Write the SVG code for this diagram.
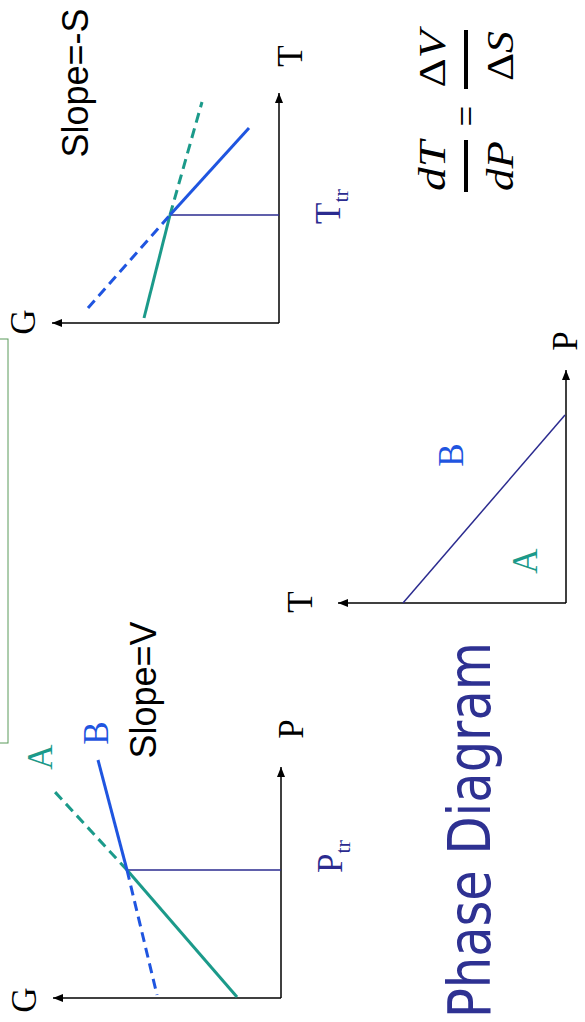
<svg xmlns="http://www.w3.org/2000/svg" width="585" height="1022" viewBox="0 0 585 1022">
<style>
.ax{stroke:#000;stroke-width:1.5;fill:none}
.tr{stroke:#2b2b8f;stroke-width:1.5;fill:none}
.ts{stroke:#1b9a8a;stroke-width:3;fill:none}
.td{stroke:#1b9a8a;stroke-width:3;fill:none;stroke-dasharray:10 6}
.bs{stroke:#1f55e0;stroke-width:3;fill:none}
.bd{stroke:#1f55e0;stroke-width:3;fill:none;stroke-dasharray:10 6}
.tm{font-family:"Liberation Serif",serif;font-size:35px;fill:#000}
.ar{font-family:"Liberation Sans",Arial,sans-serif;font-size:36px;fill:#000}
.teal{fill:#1b9a8a}
.blue{fill:#1f55e0}
.navy{fill:#2b2b8f}
.eq{font-family:"Liberation Serif",serif;font-size:37px;fill:#000}
</style>
<defs>
<marker id="arr" markerUnits="userSpaceOnUse" markerWidth="10" markerHeight="8" refX="10" refY="4" orient="auto">
<path d="M0,0 L10,4 L0,8 z" fill="#000"/>
</marker>
</defs>
<rect id="frame" x="-2" y="339" width="10" height="404" fill="none" stroke="#5a9a5a" stroke-width="1"/>

<g id="connectors">
<line class="ax" x1="279" y1="323" x2="279" y2="93" marker-end="url(#arr)"/>
<line class="ax" x1="279" y1="323" x2="52" y2="323" marker-end="url(#arr)"/>
<line class="tr" x1="170" y1="215" x2="279" y2="215"/>
<line class="ts" x1="144" y1="318" x2="170" y2="215"/>
<line class="td" x1="170" y1="215" x2="202" y2="102"/>
<line class="bd" x1="88" y1="308" x2="170" y2="215"/>
<line class="bs" x1="170" y1="215" x2="249" y2="128"/>

<line class="ax" x1="281" y1="998" x2="281" y2="767" marker-end="url(#arr)"/>
<line class="ax" x1="281" y1="998" x2="53" y2="998" marker-end="url(#arr)"/>
<line class="tr" x1="127" y1="870" x2="281" y2="870"/>
<line class="ts" x1="127" y1="870" x2="237" y2="997"/>
<line class="td" x1="127" y1="870" x2="55" y2="792"/>
<line class="bs" x1="127" y1="870" x2="98" y2="760"/>
<line class="bd" x1="127" y1="870" x2="157" y2="995"/>

<line class="ax" x1="566" y1="603" x2="566" y2="370" marker-end="url(#arr)"/>
<line class="ax" x1="566" y1="603" x2="338" y2="603" marker-end="url(#arr)"/>
<line class="tr" x1="403" y1="603" x2="565" y2="415"/>

<line x1="466" y1="140" x2="466" y2="192" stroke="#000" stroke-width="4"/>
<line x1="466" y1="30" x2="466" y2="89" stroke="#000" stroke-width="4"/>
</g>

<g id="gt-graph">
<text class="ar" transform="translate(88,83) rotate(-90)" text-anchor="middle">Slope=-S</text>
<text class="tm" transform="translate(302,56) rotate(-90)" text-anchor="middle">T</text>
<text class="tm" transform="translate(35,322) rotate(-90)" text-anchor="middle">G</text>
<text class="tm navy" font-size="37" transform="translate(340,224) rotate(-90)">T<tspan font-size="22" dy="8">tr</tspan></text>
</g>

<g id="gp-graph">
<text class="ar" transform="translate(156,690) rotate(-90)" text-anchor="middle">Slope=V</text>
<text class="tm teal" transform="translate(52,757) rotate(-90)" text-anchor="middle">A</text>
<text class="tm blue" transform="translate(108,733) rotate(-90)" text-anchor="middle">B</text>
<text class="tm" transform="translate(303,729) rotate(-90)" text-anchor="middle">P</text>
<text class="tm" transform="translate(36,1000) rotate(-90)" text-anchor="middle">G</text>
<text class="tm navy" font-size="37" transform="translate(342,873) rotate(-90)">P<tspan font-size="22" dy="8">tr</tspan></text>
</g>

<g id="tp-graph">
<text class="tm" transform="translate(312,602) rotate(-90)" text-anchor="middle">T</text>
<text class="tm" font-size="33" transform="translate(577,341) rotate(-90)" text-anchor="middle">P</text>
<text class="tm blue" transform="translate(463,455) rotate(-90)" text-anchor="middle">B</text>
<text class="tm teal" transform="translate(537,561) rotate(-90)" text-anchor="middle">A</text>
</g>

<g id="equation">
<text class="eq" font-style="italic" transform="translate(445,166) rotate(-90)" text-anchor="middle" textLength="50" lengthAdjust="spacingAndGlyphs">dT</text>
<text class="eq" font-style="italic" transform="translate(513,166) rotate(-90)" text-anchor="middle" textLength="50" lengthAdjust="spacingAndGlyphs">dP</text>
<text class="eq" font-size="50" transform="translate(479,116) rotate(-90)" text-anchor="middle">=</text>
<text class="eq" transform="translate(445,59) rotate(-90)" text-anchor="middle" textLength="57" lengthAdjust="spacingAndGlyphs">Δ<tspan font-style="italic">V</tspan></text>
<text class="eq" transform="translate(513,56) rotate(-90)" text-anchor="middle" textLength="50" lengthAdjust="spacingAndGlyphs">Δ<tspan font-style="italic">S</tspan></text>
</g>

<g id="title">
<text transform="translate(490,1018) rotate(-90)" font-family="'DejaVu Sans','Noto Sans',sans-serif" font-size="58" fill="#2e3192" textLength="376" lengthAdjust="spacingAndGlyphs">Phase Diagram</text>
</g>
</svg>
